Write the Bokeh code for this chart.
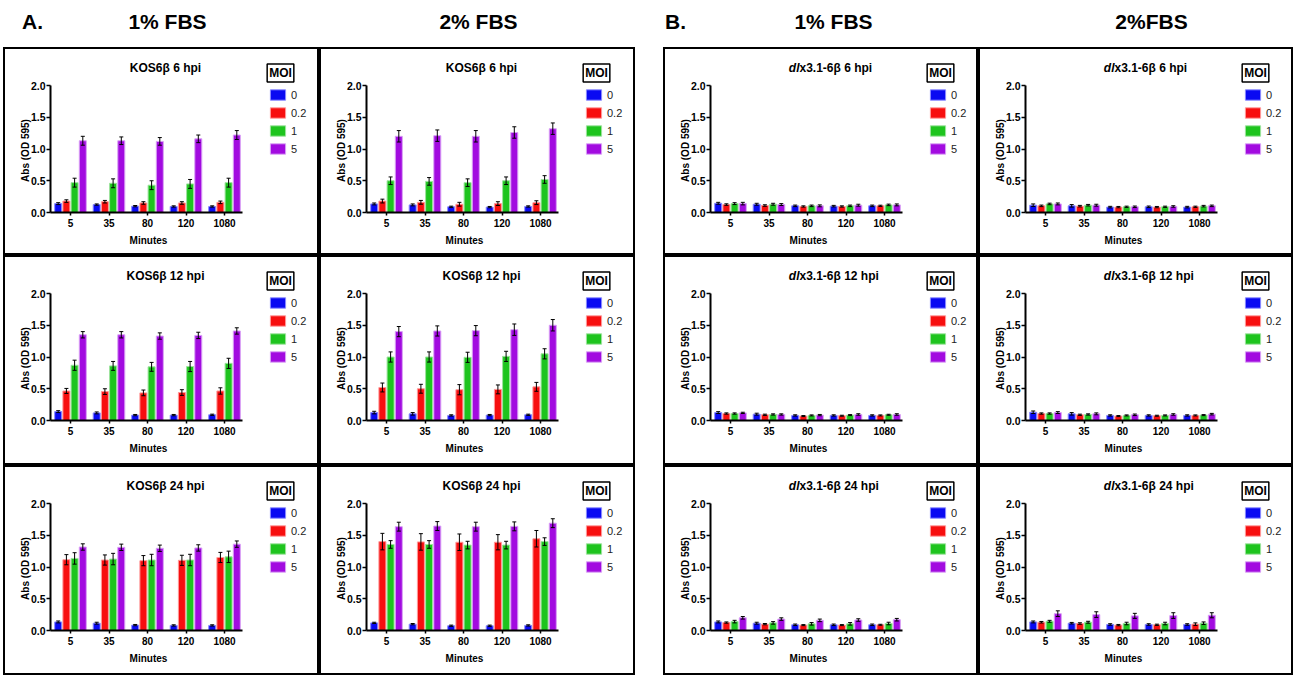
import numpy as np
from bokeh.plotting import figure
from bokeh.models import (ColumnDataSource, Range1d, LinearAxis, FixedTicker,
                          NumeralTickFormatter, Label, Legend, LegendItem, Whisker,
                          TeeHead, Spacer)
from bokeh.core.properties import value
from bokeh.layouts import row, column
from bokeh.embed import file_html
from bokeh.resources import INLINE

# ---------------- data ----------------
minutes = ["5", "35", "80", "120", "1080"]
moi = ["0", "0.2", "1", "5"]
hpi = ["6 hpi", "12 hpi", "24 hpi"]
fbs_titles = ["1% FBS", "2% FBS", "1% FBS", "2%FBS"]

# A. KOS6beta  (rows: MOI 0, 0.2, 1, 5 ; columns: minutes)
kos_1fbs_6h = [[0.14, 0.125, 0.10, 0.095, 0.095],
               [0.18, 0.17, 0.15, 0.15, 0.16],
               [0.47, 0.46, 0.43, 0.45, 0.47],
               [1.13, 1.13, 1.12, 1.16, 1.22]]
kos_1fbs_6h_err = [[0.015, 0.01, 0.01, 0.01, 0.01],
                   [0.02, 0.02, 0.02, 0.02, 0.02],
                   [0.07, 0.07, 0.07, 0.07, 0.07],
                   [0.07, 0.06, 0.06, 0.06, 0.07]]
kos_2fbs_6h = [[0.135, 0.12, 0.09, 0.085, 0.095],
               [0.18, 0.16, 0.13, 0.14, 0.155],
               [0.50, 0.49, 0.47, 0.50, 0.52],
               [1.20, 1.21, 1.20, 1.26, 1.32]]
kos_2fbs_6h_err = [[0.015, 0.015, 0.01, 0.01, 0.01],
                   [0.03, 0.03, 0.03, 0.03, 0.03],
                   [0.06, 0.06, 0.06, 0.06, 0.06],
                   [0.09, 0.09, 0.09, 0.09, 0.09]]
kos_1fbs_12h = [[0.14, 0.12, 0.085, 0.085, 0.09],
                [0.465, 0.455, 0.435, 0.44, 0.465],
                [0.87, 0.86, 0.845, 0.85, 0.90],
                [1.35, 1.35, 1.33, 1.34, 1.41]]
kos_1fbs_12h_err = [[0.015, 0.015, 0.01, 0.01, 0.01],
                    [0.04, 0.045, 0.045, 0.045, 0.05],
                    [0.08, 0.07, 0.07, 0.08, 0.08],
                    [0.05, 0.05, 0.05, 0.05, 0.05]]
kos_2fbs_12h = [[0.125, 0.105, 0.08, 0.085, 0.09],
                [0.52, 0.50, 0.485, 0.49, 0.53],
                [1.00, 1.00, 0.995, 1.01, 1.05],
                [1.40, 1.41, 1.415, 1.43, 1.50]]
kos_2fbs_12h_err = [[0.02, 0.02, 0.01, 0.01, 0.01],
                    [0.07, 0.07, 0.08, 0.07, 0.07],
                    [0.08, 0.08, 0.08, 0.08, 0.08],
                    [0.08, 0.08, 0.08, 0.09, 0.09]]
kos_1fbs_24h = [[0.135, 0.115, 0.085, 0.08, 0.08],
                [1.115, 1.11, 1.10, 1.105, 1.15],
                [1.135, 1.125, 1.11, 1.11, 1.16],
                [1.315, 1.31, 1.295, 1.30, 1.36]]
kos_1fbs_24h_err = [[0.015, 0.015, 0.01, 0.01, 0.01],
                    [0.08, 0.08, 0.08, 0.08, 0.08],
                    [0.09, 0.09, 0.09, 0.09, 0.09],
                    [0.05, 0.05, 0.05, 0.05, 0.05]]
kos_2fbs_24h = [[0.12, 0.10, 0.075, 0.075, 0.08],
                [1.40, 1.395, 1.39, 1.39, 1.445],
                [1.355, 1.355, 1.345, 1.345, 1.40],
                [1.635, 1.645, 1.635, 1.64, 1.69]]
kos_2fbs_24h_err = [[0.01, 0.01, 0.01, 0.01, 0.01],
                    [0.13, 0.13, 0.13, 0.12, 0.13],
                    [0.06, 0.06, 0.06, 0.06, 0.06],
                    [0.07, 0.07, 0.07, 0.07, 0.07]]

# B. dlx3.1-6beta
dlx_1fbs_6h = [[0.145, 0.13, 0.105, 0.10, 0.105],
               [0.125, 0.11, 0.095, 0.095, 0.105],
               [0.14, 0.13, 0.105, 0.105, 0.12],
               [0.14, 0.125, 0.105, 0.115, 0.12]]
dlx_1fbs_6h_err = [[0.015, 0.015, 0.012, 0.012, 0.012],
                   [0.012, 0.012, 0.01, 0.01, 0.01],
                   [0.015, 0.015, 0.012, 0.012, 0.012],
                   [0.02, 0.015, 0.015, 0.015, 0.015]]
dlx_2fbs_6h = [[0.115, 0.105, 0.085, 0.09, 0.085],
               [0.105, 0.10, 0.085, 0.085, 0.09],
               [0.135, 0.115, 0.09, 0.09, 0.10],
               [0.135, 0.115, 0.09, 0.095, 0.105]]
dlx_2fbs_6h_err = [[0.02, 0.02, 0.012, 0.012, 0.012],
                   [0.012, 0.012, 0.01, 0.01, 0.01],
                   [0.012, 0.012, 0.01, 0.01, 0.012],
                   [0.015, 0.015, 0.012, 0.012, 0.012]]
dlx_1fbs_12h = [[0.125, 0.10, 0.08, 0.08, 0.08],
                [0.11, 0.09, 0.07, 0.075, 0.08],
                [0.11, 0.095, 0.08, 0.085, 0.09],
                [0.12, 0.095, 0.085, 0.095, 0.095]]
dlx_1fbs_12h_err = [[0.015, 0.015, 0.01, 0.01, 0.01],
                    [0.01, 0.01, 0.008, 0.008, 0.008],
                    [0.01, 0.01, 0.008, 0.008, 0.008],
                    [0.01, 0.01, 0.01, 0.012, 0.012]]
dlx_2fbs_12h = [[0.13, 0.105, 0.08, 0.08, 0.08],
                [0.11, 0.09, 0.07, 0.075, 0.08],
                [0.11, 0.095, 0.08, 0.08, 0.085],
                [0.125, 0.105, 0.09, 0.095, 0.10]]
dlx_2fbs_12h_err = [[0.02, 0.02, 0.01, 0.01, 0.01],
                    [0.01, 0.01, 0.008, 0.008, 0.008],
                    [0.01, 0.01, 0.008, 0.008, 0.008],
                    [0.015, 0.015, 0.012, 0.012, 0.012]]
dlx_1fbs_24h = [[0.135, 0.115, 0.09, 0.09, 0.09],
                [0.125, 0.10, 0.085, 0.085, 0.09],
                [0.14, 0.12, 0.105, 0.105, 0.11],
                [0.20, 0.18, 0.16, 0.165, 0.17]]
dlx_1fbs_24h_err = [[0.015, 0.015, 0.012, 0.012, 0.012],
                    [0.01, 0.01, 0.008, 0.008, 0.008],
                    [0.02, 0.02, 0.02, 0.02, 0.02],
                    [0.02, 0.02, 0.02, 0.02, 0.02]]
dlx_2fbs_24h = [[0.135, 0.115, 0.095, 0.095, 0.095],
                [0.13, 0.11, 0.085, 0.09, 0.10],
                [0.145, 0.13, 0.11, 0.11, 0.115],
                [0.265, 0.25, 0.23, 0.235, 0.24]]
dlx_2fbs_24h_err = [[0.015, 0.012, 0.012, 0.012, 0.012],
                    [0.012, 0.012, 0.01, 0.01, 0.02],
                    [0.015, 0.015, 0.02, 0.02, 0.02],
                    [0.045, 0.045, 0.04, 0.045, 0.04]]

# ---------------- style / layout ----------------
FONT = "Liberation Sans"
moi_colors = ["#0a0af2", "#f70f0f", "#1ec41e", "#a20be0"]
moi_edges = ["#8a8aff", "#ff9a9a", "#9de39d", "#d9a2f6"]

LEFT_PAD = 3
COL_W = [316, 316, 315, 315]
GAP_W = 28
ROW_H = [208, 210, 210]
HEAD_H = 47
PAGE_W = LEFT_PAD + sum(COL_W) + GAP_W

AX_X, AX_END = 47, 239          # x axis extent inside a panel (px)
G0_X, G_STEP = 67, 38.5         # first group centre, group spacing (px)
Y0_PX, PX_UNIT = 165, 63.5      # baseline pixel, px per absorbance unit
BAR_STRIDE, BAR_W = 8.2, 7.0


def style_axis(ax, tick_out, size):
    ax.axis_line_color = "black"
    ax.axis_line_width = 2
    ax.major_tick_line_color = "black"
    ax.major_tick_line_width = 1.5
    ax.major_tick_out = tick_out
    ax.major_tick_in = 0
    ax.minor_tick_out = 0
    ax.minor_tick_in = 0
    ax.major_label_text_font = FONT
    ax.major_label_text_font_style = "bold"
    ax.major_label_text_font_size = size
    ax.major_label_text_color = "black"


def txt(p, H, px, py, text, size, style="bold", align="center", angle=0.0, **kw):
    lab = Label(x=px, y=H - py, x_units="screen", y_units="screen",
                text=text, text_align=align, text_baseline="middle",
                text_font=FONT, text_font_style=style, text_font_size=size,
                text_color="black", angle=angle, **kw)
    p.add_layout(lab)
    return lab


def make_panel(title, means, errs, W, H):
    p = figure(width=W, height=H, title=None, toolbar_location=None,
               output_backend="svg",
               x_range=Range1d((0 - G0_X) / G_STEP, (W - G0_X) / G_STEP),
               y_range=Range1d((Y0_PX - H) / PX_UNIT, Y0_PX / PX_UNIT),
               x_axis_type=None, y_axis_type=None, min_border=0,
               outline_line_color="black", outline_line_width=3,
               background_fill_color="white", border_fill_color="white")
    p.xgrid.visible = False
    p.ygrid.visible = False

    x_lo = (AX_X - G0_X) / G_STEP
    x_hi = (AX_END - G0_X) / G_STEP
    yax = LinearAxis(fixed_location=x_lo, bounds=(0, 2),
                     ticker=FixedTicker(ticks=[0, 0.5, 1.0, 1.5, 2.0]),
                     formatter=NumeralTickFormatter(format="0.0"))
    style_axis(yax, 4, "10.5px")
    yax.major_label_standoff = 1
    p.add_layout(yax, "left")

    xax = LinearAxis(fixed_location=0, bounds=(x_lo, x_hi),
                     ticker=FixedTicker(ticks=list(range(len(minutes)))),
                     major_label_overrides={i: m for i, m in enumerate(minutes)})
    style_axis(xax, 3, "10px")
    xax.major_label_standoff = 3
    p.add_layout(xax, "below")

    renderers = []
    for k, (vals, ev) in enumerate(zip(means, errs)):
        off = (k - 1.5) * BAR_STRIDE / G_STEP
        xs = [i + off for i in range(len(minutes))]
        src = ColumnDataSource(dict(
            x=xs, top=vals,
            upper=[v + e for v, e in zip(vals, ev)],
            lower=[v - e for v, e in zip(vals, ev)]))
        r = p.vbar(x="x", top="top", bottom=0, width=BAR_W / G_STEP, source=src,
                   fill_color=moi_colors[k], line_color=moi_edges[k], line_width=1)
        w = Whisker(source=src, base="x", upper="upper", lower="lower",
                    dimension="height", line_color="black", line_width=1,
                    upper_head=TeeHead(size=4, line_color="black", line_width=1),
                    lower_head=TeeHead(size=4, line_color="black", line_width=1),
                    level="overlay")
        p.add_layout(w)
        renderers.append(r)

    # legend
    glyph_h, spacing = 13, 5
    leg_h = 4 * glyph_h + 3 * spacing
    leg_top = 41
    legend = Legend(items=[LegendItem(label=value(m), renderers=[r])
                           for m, r in zip(moi, renderers)],
                    location=(265, H - (leg_top + leg_h)),
                    glyph_width=19, glyph_height=glyph_h, label_height=glyph_h,
                    spacing=spacing, padding=0, margin=0, label_standoff=4,
                    border_line_color=None, background_fill_alpha=0,
                    label_text_font=FONT, label_text_font_size="11px",
                    label_text_color="#222222")
    p.add_layout(legend)

    txt(p, H, 277, 25.5, "MOI", "12px", border_line_color="black",
        border_line_width=1.5, background_fill_color="white", padding=2)

    # panel title
    if isinstance(title, tuple):
        split = 136
        txt(p, H, split, 20, title[0], "12px", style="bold italic", align="right")
        txt(p, H, split, 20, title[1], "12px", align="left")
    else:
        txt(p, H, 162, 20, title, "12px")

    # axis titles
    txt(p, H, 22, 103, "Abs (OD 595)", "10px", angle=np.pi / 2)
    txt(p, H, 145, 193, "Minutes", "10px")
    return p


# header
header = figure(width=PAGE_W, height=HEAD_H, title=None, toolbar_location=None,
                output_backend="svg", x_range=Range1d(0, 1), y_range=Range1d(0, 1),
                x_axis_type=None, y_axis_type=None, min_border=0,
                outline_line_color=None)
header.xgrid.visible = False
header.ygrid.visible = False
head_items = [("A.", 32), (fbs_titles[0], 167), (fbs_titles[1], 478),
              ("B.", 675), (fbs_titles[2], 833), (fbs_titles[3], 1151)]
for t, px in head_items:
    header.add_layout(Label(x=px, y=HEAD_H - 20.5, x_units="screen", y_units="screen",
                            text=t, text_align="center", text_baseline="middle",
                            text_font=FONT, text_font_style="bold",
                            text_font_size="21px", text_color="black"))

kos_data = [(kos_1fbs_6h, kos_1fbs_6h_err, kos_2fbs_6h, kos_2fbs_6h_err),
            (kos_1fbs_12h, kos_1fbs_12h_err, kos_2fbs_12h, kos_2fbs_12h_err),
            (kos_1fbs_24h, kos_1fbs_24h_err, kos_2fbs_24h, kos_2fbs_24h_err)]
dlx_data = [(dlx_1fbs_6h, dlx_1fbs_6h_err, dlx_2fbs_6h, dlx_2fbs_6h_err),
            (dlx_1fbs_12h, dlx_1fbs_12h_err, dlx_2fbs_12h, dlx_2fbs_12h_err),
            (dlx_1fbs_24h, dlx_1fbs_24h_err, dlx_2fbs_24h, dlx_2fbs_24h_err)]

rows = []
for ri in range(3):
    H = ROW_H[ri]
    k1, k1e, k2, k2e = kos_data[ri]
    d1, d1e, d2, d2e = dlx_data[ri]
    kos_title = "KOS6β " + hpi[ri]
    dlx_title = ("dl", "x3.1-6β  " + hpi[ri])
    rows.append(row(Spacer(width=LEFT_PAD, height=H),
                    make_panel(kos_title, k1, k1e, COL_W[0], H),
                    make_panel(kos_title, k2, k2e, COL_W[1], H),
                    Spacer(width=GAP_W, height=H),
                    make_panel(dlx_title, d1, d1e, COL_W[2], H),
                    make_panel(dlx_title, d2, d2e, COL_W[3], H)))

layout = column(header, *rows)

open("out.html", "w", encoding="utf-8").write(file_html(layout, INLINE))
